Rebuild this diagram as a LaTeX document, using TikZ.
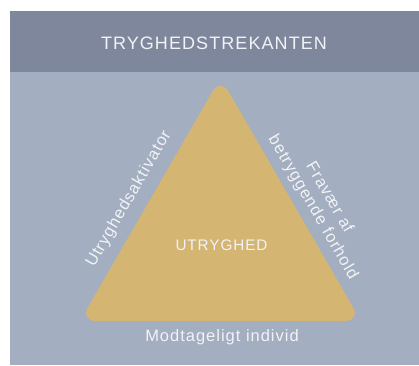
\documentclass[tikz,border=0pt]{standalone}
\usepackage{fontspec}
\newfontfamily\trisans[LetterSpace=6]{Liberation Sans}
\definecolor{headblue}{HTML}{7F879D}
\definecolor{panelblue}{HTML}{A3AEC0}
\definecolor{trigold}{HTML}{D5B572}
\definecolor{paletext}{HTML}{F2F3F6}

\begin{document}
\begin{tikzpicture}[x=1pt, y=-1pt,
    side text/.style={text=paletext, inner sep=0pt, align=center,
        font=\trisans\fontsize{16.5}{19}\selectfont}]
    % fix the bounding box
    \useasboundingbox (0, 0) rectangle (419, 365);

    % draw panel and header band
    \fill[panelblue] (10, 72) rectangle (419, 365);
    \fill[headblue] (10, 11) rectangle (419, 72);

    % draw rounded triangle
    \fill[trigold, rounded corners=16pt] (80, 321) -- (220.5, 77.6) -- (361, 321) -- cycle;

    % draw texts
    \node[side text, font=\trisans\fontsize{18}{20}\selectfont] (title) at (214, 43) {TRYGHEDSTREKANTEN};
    \node[side text, font=\trisans\fontsize{15.3}{18}\selectfont] (core) at (221.5, 245) {UTRYGHED};
    \node[side text, rotate=60] (leftside) at (129, 199) {Utryghedsaktivator};
    \node[side text, rotate=-60] (rightside) at (321, 202.5) {Fravær af\\betryggende forhold};
    \node[side text] (base) at (222, 337.5) {Modtageligt individ};

\end{tikzpicture}
\end{document}
